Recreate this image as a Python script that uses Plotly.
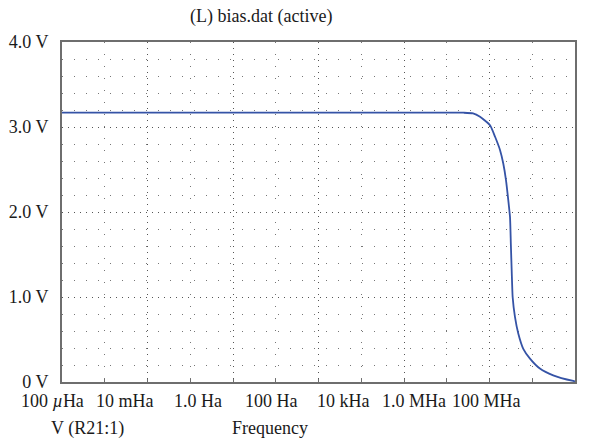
import plotly.graph_objects as go

# ---- data ----
freq_hz = [1e-4, 1e-2, 1.0, 1e2, 1e4, 1e5, 2.5e5, 4.12e5, 6.0e5, 1.03e6, 1.35e6,
           1.76e6, 2.10e6, 2.43e6, 2.75e6, 3.02e6, 3.16e6, 3.31e6, 3.48e6, 3.94e6,
           4.71e6, 6.17e6, 8.85e6, 1.51e7, 3.09e7, 9.1e7, 1e8]
volts = [3.17, 3.17, 3.17, 3.17, 3.17, 3.17, 3.168, 3.16, 3.12, 3.02, 2.885,
         2.73, 2.57, 2.375, 2.14, 1.94, 1.62, 1.30, 1.0, 0.765,
         0.57, 0.39, 0.275, 0.158, 0.079, 0.012, 0.008]

x_tick_labels = ["100 <i>µ</i>Ha", "10 mHa", "1.0 Ha", "100 Ha", "10 kHa", "1.0 MHa", "100 MHa"]
y_tick_vals = [0, 1, 2, 3, 4]
y_tick_labels = ["0 V", "1.0 V", "2.0 V", "3.0 V", "4.0 V"]
x_major_grid = [1e-2, 1.0, 1e2, 1e4, 1e6]
x_minor_grid = [1e-3, 1e-1, 1e1, 1e3, 1e5, 1e7]

title_text = "(L) bias.dat (active)"
trace_label = "V (R21:1)"
x_title = "Frequency"

# ---- layout constants (pixels) ----
W, H = 616, 442
L, R, T, B = 62, 41, 42, 60
plot_w = W - L - R
plot_h = H - T - B
label_px = [52, 125, 198, 271, 343, 414, 486]

FONT = "Liberation Serif, Times New Roman, serif"
FS = 18
FS_TICK = 18
TXT = "#1a1a1a"
GRID = "#555555"
FRAME = "#6e6e6e"

fig = go.Figure()
fig.add_trace(go.Scatter(x=freq_hz, y=volts, mode="lines",
                         line=dict(color="#3553a6", width=1.8, shape="spline", smoothing=0.5),
                         showlegend=False, hoverinfo="skip"))

def px_to_paper_x(px):
    return (px - L) / plot_w

def py_to_paper_y(py):
    return (H - B - py) / plot_h

annotations = []
for lab, px in zip(x_tick_labels, label_px):
    annotations.append(dict(x=px_to_paper_x(px), y=py_to_paper_y(401), xref="paper", yref="paper",
                            text=lab, showarrow=False, xanchor="center", yanchor="middle",
                            font=dict(family=FONT, size=FS_TICK, color=TXT)))
annotations.append(dict(x=px_to_paper_x(260.5), y=py_to_paper_y(16), xref="paper", yref="paper",
                        text=title_text, showarrow=False, xanchor="center", yanchor="middle",
                        font=dict(family=FONT, size=FS, color=TXT)))
annotations.append(dict(x=px_to_paper_x(87.5), y=py_to_paper_y(428), xref="paper", yref="paper",
                        text=trace_label, showarrow=False, xanchor="center", yanchor="middle",
                        font=dict(family=FONT, size=FS, color=TXT)))
annotations.append(dict(x=px_to_paper_x(269.5), y=py_to_paper_y(428), xref="paper", yref="paper",
                        text=x_title, showarrow=False, xanchor="center", yanchor="middle",
                        font=dict(family=FONT, size=FS, color=TXT)))

fig.update_layout(
    width=W, height=H,
    margin=dict(l=L, r=R, t=T, b=B, pad=0, autoexpand=False),
    paper_bgcolor="white", plot_bgcolor="white",
    font=dict(family=FONT, size=FS_TICK, color=TXT),
    annotations=annotations,
    xaxis=dict(type="log", range=[-4, 8], tickmode="array", tickvals=x_major_grid,
               showticklabels=False, ticks="inside", ticklen=3, tickcolor=FRAME,
               showgrid=True, gridcolor=GRID, gridwidth=1, griddash="1px,5px",
               minor=dict(tickmode="array", tickvals=x_minor_grid, ticks="inside", ticklen=3,
                          tickcolor=FRAME, showgrid=True, gridcolor="#777777", gridwidth=1,
                          griddash="1px,11px"),
               showline=True, linecolor=FRAME, linewidth=2, mirror=True, zeroline=False,
               automargin=False),
    yaxis=dict(range=[0, 4], tickmode="array", tickvals=y_tick_vals, ticktext=y_tick_labels,
               ticks="", ticklabelstandoff=8,
               showgrid=True, gridcolor=GRID, gridwidth=1, griddash="1px,5px",
               minor=dict(dtick=0.2, showgrid=True, gridcolor="#777777", gridwidth=1,
                          griddash="1px,11px"),
               showline=True, linecolor=FRAME, linewidth=2, mirror=True, zeroline=False,
               automargin=False),
)

fig.write_html("out.html", config={"displayModeBar": False},
               post_script="document.body.style.margin='0';document.body.style.padding='0';")
